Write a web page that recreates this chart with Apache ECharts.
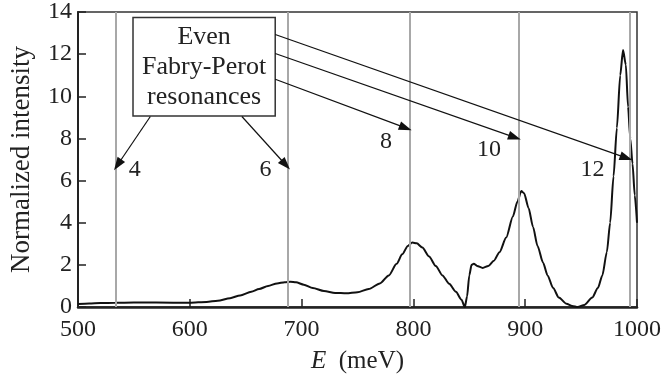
<!DOCTYPE html>
<html>
<head>
<meta charset="utf-8">
<script src="https://cdn.jsdelivr.net/npm/echarts@6/dist/echarts.min.js"></script>
<style>
html,body{margin:0;padding:0;background:#fff;}
#c{width:665px;height:379px;}
</style>
</head>
<body>
<div id="c"></div>
<script>
// Energy (meV) and normalized intensity
var energy = [500,510,520,533,550,570,600,615,625,636,645,655,662,670,678,685,690,695,702,710,720,730,740,750,760,770,778,785,790,795,799,803,808,814,820,826,832,838,843,846,848,850,852,854,857,862,867,872,877,883,889,893,896.5,899,903,907,911,916,920,925,930,937,942,947,953,960,965,969,973,976,979,982,985,987.5,990,992,994,996,998,1000];
var intensity = [0.14,0.17,0.19,0.2,0.21,0.21,0.2,0.24,0.3,0.42,0.55,0.72,0.85,1.0,1.12,1.18,1.2,1.17,1.06,0.9,0.76,0.67,0.65,0.7,0.85,1.12,1.5,2.05,2.5,2.9,3.06,3.02,2.82,2.4,1.95,1.5,1.1,0.72,0.35,0.0,0.5,1.5,2.0,2.05,1.95,1.85,1.95,2.2,2.6,3.3,4.3,5.0,5.5,5.4,4.7,3.8,2.9,2.1,1.5,0.9,0.45,0.15,0.05,0.0,0.1,0.45,0.9,1.5,2.6,4.0,6.2,8.5,11.0,12.2,11.5,9.5,8.0,6.8,5.3,4.0];

// Even Fabry-Perot resonance positions (meV)
var resonances = [533.5, 687.8, 796.7, 893.9, 993.5];
var resonanceOrders = ['4','6','8','10','12'];
// arrow start / end points in data coordinates
var arrowStart = [[564.7,9.04],[646.6,9.04],[676.4,10.81],[676.4,12.03],[676.4,12.93]];
var arrowEnd   = [[535.5,6.75],[685.7,6.75],[793.0,8.5],[890.6,8.05],[990.4,7.08]];
// order labels positions
var labelPos = [[550.7,6.52],[667.8,6.52],[775.6,7.84],[867.7,7.45],[960.3,6.53]];
// annotation box corners
var boxCorners = [[549.2,13.74],[676.4,9.07]];
var boxText = ['Even','Fabry-Perot','resonances'];

var xTicks = {min:500, max:1000, interval:100};
var yTicks = {min:0, max:14, interval:2};

var FONT = '"Liberation Serif", "Times New Roman", serif';
var chart = echarts.init(document.getElementById('c'), null, {renderer:'canvas'});

var curve = energy.map(function(e,i){return [e, intensity[i]];});

var option = {
  animation:false,
  textStyle:{fontFamily:FONT},
  grid:{left:78, right:28, top:10, bottom:66, show:true, borderColor:'#333', borderWidth:1.5, backgroundColor:'transparent'},
  xAxis:{
    type:'value', min:xTicks.min, max:xTicks.max, interval:xTicks.interval,
    name:'{i|E}  (meV)', nameLocation:'middle', nameGap:42,
    nameTextStyle:{fontFamily:FONT, fontSize:25, color:'#222', rich:{i:{fontStyle:'italic', fontFamily:FONT, fontSize:25, color:'#222'}}},
    axisLine:{show:true, lineStyle:{color:'#222', width:2.5}},
    axisTick:{show:true, inside:true, length:8, lineStyle:{color:'#222', width:1.5}},
    axisLabel:{fontFamily:FONT, fontSize:24, color:'#222', margin:11, formatter:function(v){return String(v);}},
    splitLine:{show:false}
  },
  yAxis:{
    type:'value', min:yTicks.min, max:yTicks.max, interval:yTicks.interval,
    name:'Normalized intensity', nameLocation:'middle', nameGap:43,
    nameTextStyle:{fontFamily:FONT, fontSize:27, color:'#222'},
    axisLine:{show:true, lineStyle:{color:'#222', width:2}},
    axisTick:{show:true, inside:true, length:8, lineStyle:{color:'#222', width:1.5}},
    axisLabel:{fontFamily:FONT, fontSize:24, color:'#222', margin:6},
    splitLine:{show:false}
  },
  series:[
    {
      type:'line', data:[], silent:true, z:1,
      markLine:{
        silent:true, symbol:['none','none'], animation:false,
        label:{show:false},
        lineStyle:{color:'#a8a8a8', width:2, type:'solid'},
        data: resonances.map(function(r){return {xAxis:r};})
      }
    },
    {
      type:'line', data:curve, smooth:0.25, smoothMonotone:'x', showSymbol:false, silent:true, z:3,
      lineStyle:{color:'#111', width:2},
      itemStyle:{color:'#111'}
    },
    {
      type:'line', data:[], silent:true, z:4,
      markArea:{
        silent:true,
        itemStyle:{color:'#fff', borderColor:'#333', borderWidth:1.5},
        label:{show:true, position:'inside', formatter:boxText.join('\n'), fontFamily:FONT, fontSize:26, lineHeight:30, color:'#222'},
        data:[[{coord:boxCorners[0]},{coord:boxCorners[1]}]]
      },
      markLine:{
        silent:true, symbol:['none','triangle'], symbolSize:[9,13], animation:false,
        label:{show:false},
        lineStyle:{color:'#111', width:1.2, type:'solid'},
        itemStyle:{color:'#111'},
        data: arrowStart.map(function(s,i){return [{coord:s},{coord:arrowEnd[i]}];})
      },
      markPoint:{
        silent:true, symbol:'circle', symbolSize:0,
        label:{show:true, position:'inside', fontFamily:FONT, fontSize:24, color:'#222', formatter:function(p){return p.name;}},
        data: labelPos.map(function(p,i){return {name:resonanceOrders[i], coord:p};})
      }
    }
  ]
};
chart.setOption(option);
</script>
</body>
</html>
